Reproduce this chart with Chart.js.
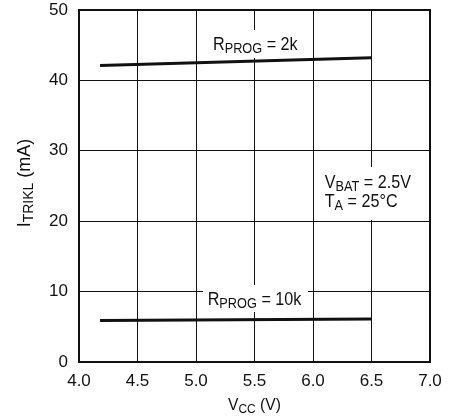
<!DOCTYPE html>
<html>
<head>
<meta charset="utf-8">
<script src="https://cdn.jsdelivr.net/npm/chart.js@4.4.1/dist/chart.umd.min.js"></script>
<style>
  html, body { margin: 0; padding: 0; background: #fff; }
  #wrap { width: 458px; height: 418px; }
</style>
</head>
<body>
<div id="wrap"><canvas id="c" width="458" height="418"></canvas></div>
<script>
// ---- data ----
const vcc = [4.18, 6.5];              // V_CC (V)
const iTrikl2k = [42.1, 43.2];        // R_PROG = 2k  (mA)
const iTrikl10k = [5.9, 6.1];         // R_PROG = 10k (mA)
const xTicks = [4.0, 4.5, 5.0, 5.5, 6.0, 6.5, 7.0];
const yTicks = [0, 10, 20, 30, 40, 50];

const FONT = "'Liberation Sans', Arial, sans-serif";
const INK = '#111';

function toPts(xs, ys) { return xs.map((x, i) => ({ x: x, y: ys[i] })); }

// draw text with subscripts; sx = horizontal condensing factor
function drawRich(ctx, parts, x, y, main, sub, drop, sx) {
  sx = sx || 1;
  ctx.save();
  ctx.translate(x, y);
  ctx.scale(sx, 1);
  let cx = 0;
  ctx.textAlign = 'left';
  ctx.textBaseline = 'alphabetic';
  for (const p of parts) {
    ctx.font = (p.s ? sub : main) + 'px ' + FONT;
    ctx.fillText(p.t, cx, p.s ? drop : 0);
    cx += ctx.measureText(p.t).width;
  }
  ctx.restore();
  return cx * sx;
}
function richWidth(ctx, parts, main, sub, sx) {
  let w = 0;
  for (const p of parts) {
    ctx.font = (p.s ? sub : main) + 'px ' + FONT;
    w += ctx.measureText(p.t).width;
  }
  return w * (sx || 1);
}

// annotations: anchor in data units; white masks in pixels
const notes = [
  { x: 5.145, y: 44.35, lines: [[{t:'R'},{t:'PROG',s:1},{t:' = 2k'}]], box: [208, 30, 303, 58] },
  { x: 5.10, y: 8.05, lines: [[{t:'R'},{t:'PROG',s:1},{t:' = 10k'}]], box: [203, 285, 308, 312] },
  { x: 6.10, y: 24.7, lines: [[{t:'V'},{t:'BAT',s:1},{t:' = 2.5V'}],[{t:'T'},{t:'A',s:1},{t:' = 25°C'}]], box: [318, 167, 425, 220] }
];

const annot = {
  id: 'annot',
  beforeDatasetsDraw(chart) {
    const ctx = chart.ctx, xs = chart.scales.x, ys = chart.scales.y;
    const a = chart.chartArea;
    ctx.save();
    ctx.strokeStyle = INK;
    ctx.lineWidth = 2;
    ctx.strokeRect(a.left, a.top, a.right - a.left, a.bottom - a.top);
    for (const n of notes) {
      const px = xs.getPixelForValue(n.x), py = ys.getPixelForValue(n.y);
      ctx.fillStyle = '#fff';
      const b = n.box;
      ctx.fillRect(b[0], b[1], b[2] - b[0], b[3] - b[1]);
      ctx.fillStyle = INK;
      n.lines.forEach((ln, i) => drawRich(ctx, ln, px, py + i * 19, 19, 15, 3, 0.85));
    }
    ctx.restore();
  },
  afterDraw(chart) {
    const ctx = chart.ctx, a = chart.chartArea;
    ctx.save();
    ctx.fillStyle = INK;
    const xt = [{t:'V'},{t:'CC',s:1},{t:' (V)'}];
    const wx = richWidth(ctx, xt, 17, 13, 0.92);
    drawRich(ctx, xt, (a.left + a.right) / 2 - wx / 2, 410, 17, 13, 3, 0.92);
    const yt = [{t:'I'},{t:'TRIKL',s:1},{t:' (mA)'}];
    const wy = richWidth(ctx, yt, 18, 14, 1);
    ctx.translate(30, 183);
    ctx.rotate(-Math.PI / 2);
    drawRich(ctx, yt, -wy / 2, 0, 18, 14, 3, 1);
    ctx.restore();
  }
};

new Chart(document.getElementById('c'), {
  type: 'line',
  data: {
    datasets: [
      { data: toPts(vcc, iTrikl2k), borderColor: INK, borderWidth: 3, pointRadius: 0, tension: 0 },
      { data: toPts(vcc, iTrikl10k), borderColor: INK, borderWidth: 3, pointRadius: 0, tension: 0 }
    ]
  },
  options: {
    responsive: false,
    animation: false,
    devicePixelRatio: 1,
    layout: { padding: { top: 10, right: 28, left: 0, bottom: 0 } },
    plugins: { legend: { display: false }, tooltip: { enabled: false }, title: { display: false } },
    scales: {
      x: {
        type: 'linear', min: 4, max: 7,
        afterBuildTicks: s => { s.ticks = xTicks.map(v => ({ value: v })); },
        afterFit: s => { s.height = 56; s.paddingLeft = 0; s.paddingRight = 0; },
        grid: { color: INK, lineWidth: 1, drawTicks: false },
        border: { display: false },
        ticks: { color: INK, font: { family: FONT, size: 17 }, padding: 9, maxRotation: 0,
                 callback: v => Number(v).toFixed(1) }
      },
      y: {
        type: 'linear', min: 0, max: 50,
        afterBuildTicks: s => { s.ticks = yTicks.map(v => ({ value: v })); },
        afterFit: s => { s.width = 79; s.paddingTop = 0; s.paddingBottom = 0; },
        grid: { color: INK, lineWidth: 1, drawTicks: false },
        border: { display: false },
        ticks: { color: INK, font: { family: FONT, size: 17 }, padding: 11,
                 callback: v => String(v) }
      }
    }
  },
  plugins: [annot]
});
</script>
</body>
</html>
